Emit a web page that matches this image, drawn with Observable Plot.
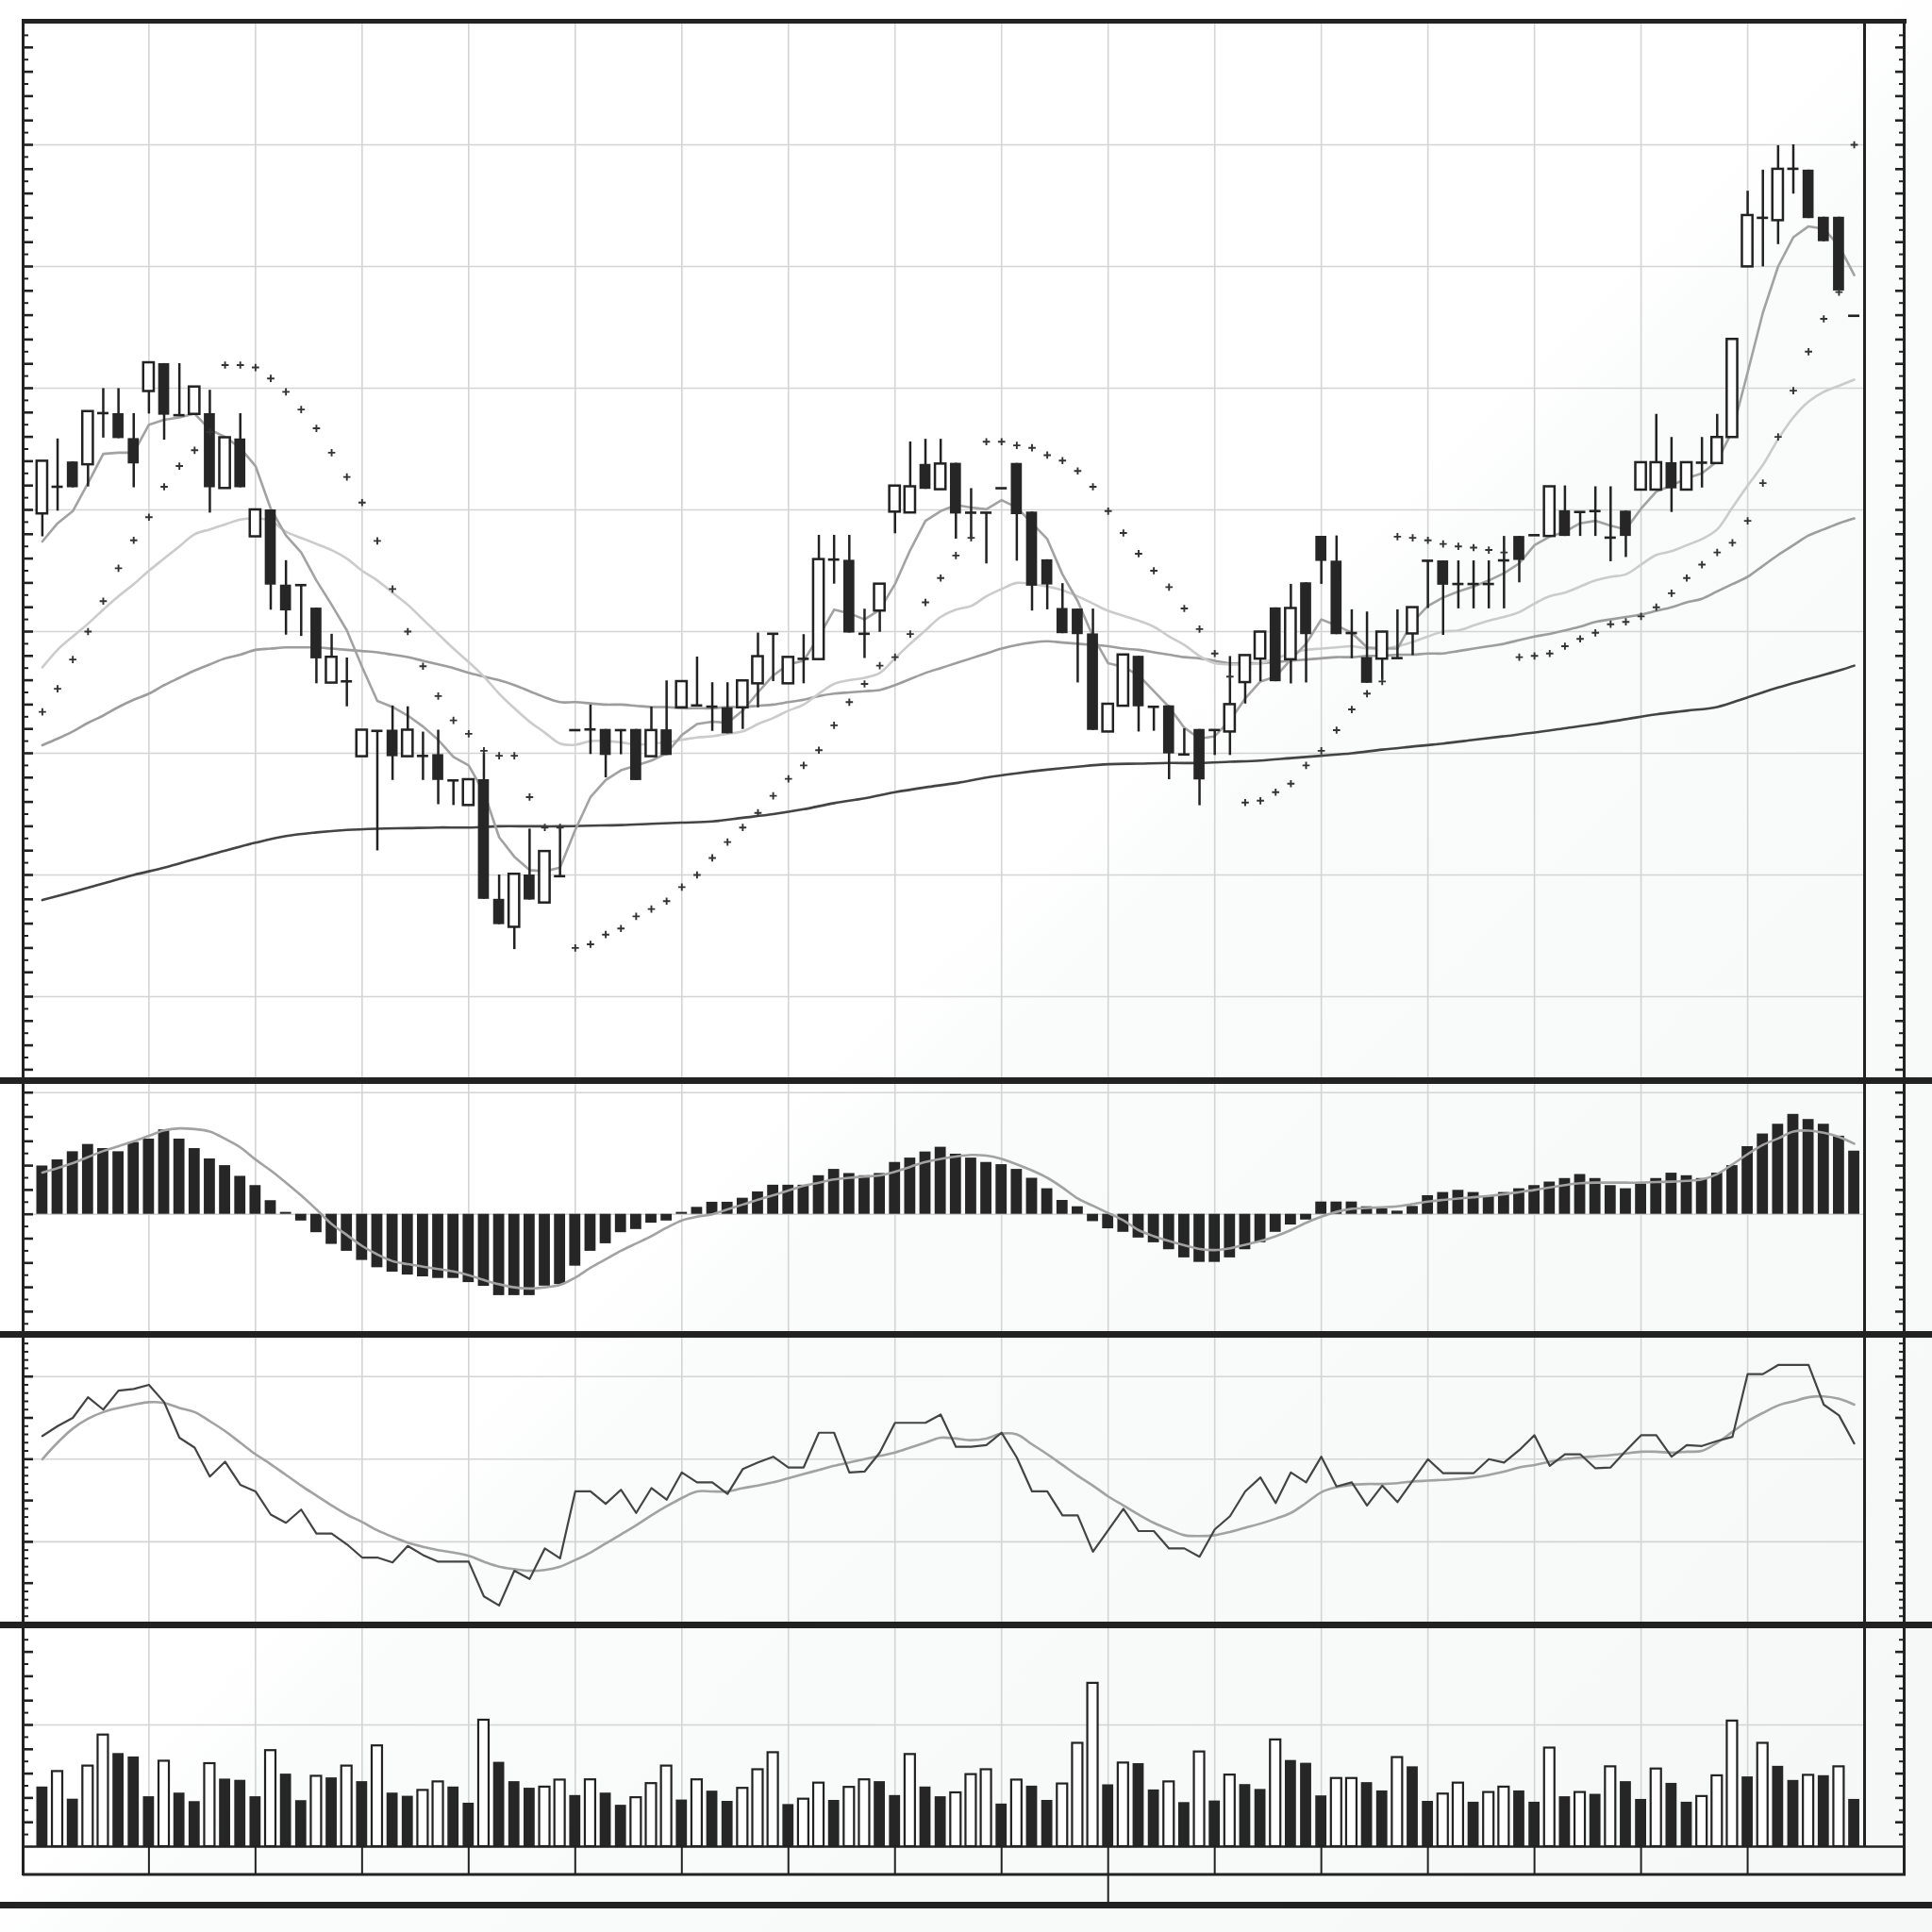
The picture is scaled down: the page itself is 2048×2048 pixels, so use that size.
<!DOCTYPE html>
<html><head><meta charset="utf-8">
<script src="https://cdn.jsdelivr.net/npm/d3@7"></script>
<script src="https://cdn.jsdelivr.net/npm/@observablehq/plot@0.6"></script>
<style>
html,body{margin:0;padding:0;}
body{width:2048px;height:2048px;position:relative;overflow:hidden;
background:linear-gradient(135deg,#ffffff 0%,#ffffff 49%,#fafbfb 53%,#f6f8f8 100%);font-family:"DejaVu Sans",sans-serif;}
#chart{position:absolute;left:0;top:0;width:2048px;height:2048px;}
.bar{position:absolute;background:#222;}
</style></head><body>
<div id="chart"></div>
<script>
// ---------- DATA ----------
const open = [79.67,81.9,83.94,83.71,87.95,87.91,85.86,89.73,92.02,87.78,
87.85,87.91,81.76,85.83,77.79,80.0,73.82,73.82,71.93,65.77,
65.91,59.72,61.84,61.9,59.72,59.78,59.89,57.77,55.71,57.83,
48.0,45.7,50.0,47.7,49.9,61.9,61.96,61.96,61.9,61.96,
59.72,61.93,63.74,63.93,63.83,63.74,63.74,65.71,69.82,65.71,
67.76,67.7,75.92,75.86,69.82,71.69,79.82,79.75,83.74,81.66,
83.83,79.77,79.77,81.78,83.82,79.82,75.9,71.9,71.85,69.81,
61.75,63.87,67.97,63.82,63.9,59.9,61.96,61.91,61.75,65.81,
67.74,71.95,67.69,74.01,77.83,75.79,69.88,67.87,67.74,67.82,
69.81,75.82,75.81,73.91,73.91,73.91,75.85,77.82,77.92,77.82,
79.93,79.83,79.9,77.72,79.9,81.63,81.63,83.88,81.63,83.88,
83.81,85.95,99.97,104.0,103.77,108.03,107.92,104.05,104.05,95.95];
const close = [84.0,81.9,81.82,88.08,87.95,85.86,83.78,92.09,87.78,87.78,
90.1,81.82,85.93,81.82,80.0,73.82,71.7,73.82,67.76,67.89,
65.91,61.9,61.84,59.72,61.9,59.78,57.77,57.77,57.83,48.0,
45.92,50.06,47.94,51.93,49.9,61.9,61.96,59.82,61.9,57.76,
61.87,59.82,65.89,63.93,63.83,61.6,65.95,67.94,69.82,67.88,
67.76,75.92,75.92,69.88,69.82,73.9,81.96,81.9,81.69,83.77,
79.66,79.77,79.77,81.78,79.61,73.73,73.83,69.83,69.75,61.88,
64.03,68.08,63.82,63.82,59.95,59.9,57.81,61.91,64.0,68.03,
69.96,65.88,71.9,69.75,75.77,69.75,69.88,65.75,69.96,67.82,
71.97,75.82,73.81,73.91,73.91,73.91,75.85,75.85,77.92,81.9,
77.82,79.83,79.9,77.72,77.82,83.88,83.88,81.73,83.88,83.88,
85.95,94.01,104.19,104.0,107.99,108.03,103.94,102.04,97.99,95.95];
const high = [84.0,85.83,83.94,88.08,89.97,89.97,87.91,92.09,92.02,92.02,
90.1,89.83,85.93,87.91,80.0,80.0,75.83,73.82,71.93,69.78,
67.83,61.9,61.84,63.89,63.82,61.74,61.9,57.77,57.83,60.0,
50.0,50.06,53.77,51.93,53.99,61.9,63.96,61.96,61.9,61.96,
63.8,65.95,65.89,67.91,65.8,65.8,65.95,69.88,69.82,67.88,
69.75,77.91,77.91,77.91,71.84,73.9,81.96,85.58,85.8,85.8,
83.83,81.75,79.77,81.78,83.82,79.82,75.9,73.94,71.85,71.85,
64.03,68.08,67.97,63.82,63.9,62.01,61.96,61.91,67.95,68.03,
69.96,71.95,73.88,74.01,77.83,77.86,71.79,71.61,69.96,71.79,
71.97,75.82,75.81,75.81,75.81,75.81,77.82,77.82,77.92,81.9,
81.97,79.83,81.9,81.9,79.9,83.88,87.85,85.95,83.88,85.95,
87.85,94.01,106.19,107.92,109.93,110.0,107.92,104.05,104.05,95.95];
const low = [77.79,79.9,81.82,81.89,85.9,85.86,81.82,87.88,85.73,87.78,
87.85,79.74,81.76,81.82,77.79,71.76,69.71,69.6,65.71,65.77,
63.82,59.72,51.98,57.77,59.72,57.77,55.78,55.71,55.71,48.0,
45.92,43.87,47.94,47.7,49.9,61.9,59.9,57.98,59.88,57.76,
59.72,59.82,63.74,63.93,61.8,61.6,61.96,63.74,65.89,65.71,
65.71,67.7,73.9,69.88,67.79,69.94,78.04,79.75,81.69,81.66,
77.6,77.57,75.56,81.78,75.79,71.69,71.79,69.83,65.78,61.88,
61.75,63.87,61.75,61.81,57.83,59.9,55.69,59.82,59.82,64.05,
65.88,65.88,65.7,65.78,73.88,69.75,67.77,65.75,66.0,67.82,
68.03,71.9,69.69,71.87,71.87,71.87,71.87,74.01,77.92,77.82,
77.82,77.82,77.82,75.74,76.09,81.63,81.63,79.79,81.63,81.8,
83.81,85.95,99.97,99.97,101.8,105.95,103.94,102.04,97.99,95.95];

const maFast = [77.4,78.9,79.9,82.2,84.6,84.7,84.7,87.0,87.4,87.6,
87.9,86.6,86.0,85.1,83.6,80.1,77.9,76.5,74.2,72.2,
70.1,67.1,64.3,63.8,63.1,62.2,61.1,59.7,59.0,56.8,
53.1,51.5,50.4,50.3,50.6,53.7,56.4,57.8,58.6,59.0,
59.4,60.0,61.5,62.4,62.6,62.5,63.5,65.0,66.4,67.3,
67.6,69.6,71.8,71.5,71.0,71.8,73.9,76.7,79.1,79.9,
80.4,80.2,80.05,80.8,80.2,78.9,77.6,74.7,72.5,69.6,
67.4,67.1,66.4,65.1,63.8,62.1,61.2,61.4,62.7,64.5,
65.9,66.3,67.7,69.0,71.0,70.5,69.9,68.7,68.6,68.6,
70.8,72.1,72.8,73.3,73.7,74.2,74.8,75.6,77.1,77.8,
78.2,78.9,79.1,78.7,78.4,80.1,81.5,82.0,82.6,83.0,
84.0,86.5,91.3,96.2,100.0,102.4,103.3,103.1,101.7,99.3];
const maMid = [67.05,68.5,69.6,70.65,71.8,72.9,73.9,75.0,76.0,77.0,
78.0,78.4,78.8,79.2,79.3,79.1,78.2,77.7,77.2,76.7,
76.0,75.0,74.2,73.2,72.2,71.0,69.8,68.6,67.5,66.3,
64.9,63.7,62.6,61.7,60.8,60.7,61.0,61.0,60.9,60.7,
60.8,60.9,61.1,61.3,61.4,61.6,61.8,62.4,62.9,63.5,
64.0,64.9,65.7,66.0,66.2,66.6,67.8,69.0,70.1,71.2,
71.8,72.1,72.9,73.5,74.0,73.9,73.7,73.4,72.9,72.3,
71.7,71.3,70.9,70.4,69.6,68.9,68.0,67.4,67.3,67.3,
67.4,67.8,68.2,68.5,68.6,68.7,68.8,68.6,68.6,68.8,
69.15,69.6,70.0,70.1,70.5,70.9,71.2,71.6,72.3,72.9,
73.2,73.7,74.2,74.5,74.7,75.5,76.3,76.6,77.1,77.6,
78.4,80.2,82.0,83.7,85.8,87.6,88.9,89.7,90.2,90.7];
const maSlow = [60.66,61.2,61.8,62.5,63.1,63.8,64.4,64.9,65.6,66.2,
66.8,67.3,67.8,68.1,68.5,68.6,68.7,68.7,68.7,68.6,
68.5,68.4,68.3,68.1,67.9,67.6,67.3,67.0,66.6,66.3,
66.0,65.6,65.1,64.6,64.2,64.2,64.1,64.0,64.0,63.9,
63.8,63.8,63.7,63.7,63.7,63.8,63.8,63.9,64.0,64.2,
64.4,64.7,64.9,65.0,65.1,65.2,65.6,66.1,66.6,67.0,
67.4,67.8,68.2,68.6,68.9,69.1,69.2,69.1,69.0,68.9,
68.8,68.6,68.5,68.3,68.1,67.9,67.8,67.6,67.4,67.4,
67.4,67.5,67.6,67.7,67.8,67.9,67.9,68.0,68.0,68.1,
68.1,68.2,68.2,68.4,68.6,68.8,69.0,69.3,69.6,69.8,
70.1,70.4,70.8,71.0,71.2,71.4,71.7,72.0,72.4,72.7,
73.3,73.9,74.5,75.4,76.3,77.1,77.9,78.4,78.9,79.3];
const maTrendIdx = [0,2,4,6,8,10,12,14,16,18,20,22,24,26,28,30,32,34,36,38,40,42,44,46,48,50,52,54,56,58,
60,62,64,66,68,70,72,74,76,78,80,82,84,86,88,90,92,94,96,98,100,102,104,106,108,110,112,114,116,118,119];
const maTrend = [47.94,48.6,49.3,50.0,50.6,51.3,52.0,52.65,53.2,53.5,53.7,53.8,53.85,53.9,53.9,54.0,54.0,54.0,54.05,54.1,
54.2,54.3,54.4,54.7,55.0,55.4,55.9,56.3,56.8,57.2,
57.55,58.0,58.35,58.65,58.9,59.1,59.15,59.2,59.2,59.3,59.4,59.6,59.8,60.0,60.3,60.55,60.8,61.1,61.4,61.7,
62.05,62.4,62.8,63.2,63.5,63.8,64.6,65.4,66.1,66.8,67.2];
const sar = [63.4,65.3,67.7,70.0,72.5,75.2,77.5,79.4,81.9,83.6,
84.9,86.4,91.9,91.9,91.7,90.8,89.7,88.25,86.7,84.7,
82.7,80.6,77.45,73.5,70.0,67.15,64.7,62.7,61.6,60.2,
59.8,59.8,56.4,53.9,53.9,44.0,44.3,45.1,45.6,46.6,
47.2,47.85,49.0,50.0,51.4,52.7,53.9,55.1,56.5,57.9,
59.0,60.25,62.3,64.2,65.7,67.2,67.9,69.8,72.4,74.4,
76.25,77.7,85.6,85.6,85.3,85.1,84.5,84.05,83.2,81.9,
79.9,78.1,76.4,75.0,73.65,71.9,70.2,68.2,66.3,55.95,
56.1,56.8,57.5,59.0,60.2,61.9,63.6,64.9,65.9,77.8,
77.7,77.5,77.2,77.0,76.9,76.7,76.5,67.9,68.0,68.2,
68.8,69.4,69.9,70.6,70.8,71.25,72.0,73.15,74.4,75.5,
76.5,77.3,79.1,82.2,86.0,89.8,93.0,95.7,97.9,110.0];

const macdHist = [0.397,0.447,0.514,0.574,0.54,0.514,0.59,0.618,0.694,0.618,
0.54,0.455,0.4,0.312,0.236,0.112,0.016,-0.055,-0.151,-0.247,
-0.304,-0.379,-0.439,-0.475,-0.499,-0.514,-0.527,-0.527,-0.561,-0.592,
-0.668,-0.668,-0.668,-0.59,-0.577,-0.426,-0.304,-0.242,-0.151,-0.125,
-0.073,-0.055,0.016,0.057,0.099,0.099,0.132,0.184,0.239,0.239,
0.239,0.317,0.369,0.335,0.317,0.335,0.426,0.462,0.512,0.551,
0.494,0.462,0.426,0.408,0.369,0.296,0.21,0.114,0.062,-0.06,
-0.119,-0.148,-0.195,-0.234,-0.291,-0.358,-0.395,-0.395,-0.358,-0.291,
-0.234,-0.148,-0.088,-0.047,0.101,0.101,0.101,0.062,0.044,0.026,
0.065,0.153,0.179,0.197,0.179,0.145,0.179,0.21,0.236,0.265,
0.294,0.327,0.294,0.236,0.21,0.249,0.294,0.338,0.317,0.294,
0.338,0.4,0.556,0.66,0.74,0.821,0.779,0.74,0.642,0.519];
const macdSignal = [0.343,0.38,0.42,0.47,0.52,0.56,0.6,0.645,0.69,0.706,
0.70,0.68,0.62,0.55,0.45,0.36,0.26,0.155,0.04,-0.08,
-0.17,-0.26,-0.33,-0.385,-0.41,-0.43,-0.45,-0.47,-0.5,-0.54,
-0.575,-0.6,-0.61,-0.6,-0.58,-0.52,-0.44,-0.37,-0.3,-0.24,
-0.18,-0.11,-0.05,-0.02,0.0,0.04,0.08,0.12,0.156,0.195,
0.234,0.26,0.286,0.3,0.31,0.32,0.35,0.39,0.43,0.455,
0.475,0.488,0.482,0.455,0.41,0.36,0.3,0.22,0.13,0.07,
0.01,-0.05,-0.13,-0.18,-0.22,-0.255,-0.285,-0.294,-0.28,-0.25,
-0.22,-0.18,-0.13,-0.07,-0.02,0.02,0.045,0.052,0.058,0.065,
0.085,0.104,0.118,0.13,0.14,0.151,0.165,0.182,0.2,0.221,
0.24,0.255,0.26,0.26,0.26,0.26,0.265,0.268,0.275,0.286,
0.33,0.41,0.494,0.57,0.623,0.68,0.688,0.67,0.635,0.58];

const oscK = [22.8,24.0,25.0,27.5,26.0,28.3,28.5,29.0,26.9,22.6,
21.4,17.9,19.7,16.9,16.1,13.3,12.3,13.9,11.0,11.0,
9.7,8.1,8.1,7.5,9.5,8.4,7.6,7.6,7.6,3.4,
2.3,6.5,5.5,9.2,8.0,16.1,16.1,14.6,16.3,13.5,
16.5,15.1,18.4,17.2,17.2,15.8,18.8,19.6,20.3,19.0,
19.0,23.2,23.2,18.4,18.5,20.8,24.4,24.4,24.4,25.4,
21.5,21.5,21.7,23.2,20.2,16.1,16.1,13.2,13.2,8.8,
11.4,14.0,11.3,11.3,9.2,9.2,8.2,11.5,13.1,16.1,
17.8,14.7,18.4,17.2,20.3,16.7,17.2,14.4,16.8,14.8,
17.4,20.0,18.3,18.3,18.3,20.0,19.6,21.1,22.9,19.2,
20.6,20.6,18.9,19.0,21.0,22.9,22.9,20.3,21.7,21.6,
22.2,22.7,30.3,30.3,31.4,31.4,31.4,26.6,25.3,21.9];
const oscD = [20.0,22.0,23.7,24.9,25.7,26.2,26.6,26.9,26.8,26.2,
25.7,24.6,23.4,22.0,20.6,19.4,18.1,16.8,15.6,14.4,
13.3,12.4,11.4,10.6,9.9,9.4,9.0,8.7,8.3,7.6,
7.0,6.7,6.5,6.6,7.0,7.8,8.7,9.8,10.9,12.0,
13.2,14.3,15.3,16.1,16.1,16.1,16.5,16.8,17.2,17.7,
18.2,18.7,19.2,19.6,20.0,20.4,20.8,21.4,22.0,22.6,
22.5,22.3,22.5,23.1,23.0,21.8,20.6,19.3,18.0,16.8,
15.5,14.4,13.3,12.3,11.5,10.8,10.7,10.8,11.2,11.7,
12.2,12.8,13.5,14.7,16.0,16.6,16.9,17.0,17.0,17.1,
17.3,17.4,17.5,17.6,17.8,18.1,18.5,19.0,19.3,19.7,
20.0,20.2,20.35,20.5,20.7,20.9,20.9,20.8,20.9,21.0,
22.0,23.3,24.6,25.6,26.5,27.0,27.5,27.6,27.3,26.6];

const volume = [4.9,6.25,3.9,6.7,9.25,7.65,7.37,4.1,7.1,4.4,
3.7,6.9,5.55,5.45,4.1,7.97,5.96,3.78,5.86,5.65,
6.7,5.34,8.36,4.4,4.14,4.7,5.4,4.9,3.57,10.47,
6.93,5.34,4.8,4.97,5.55,4.2,5.57,4.4,3.4,4.1,
5.26,6.7,3.83,5.57,4.56,3.72,4.87,6.4,7.8,3.46,
3.98,5.3,3.8,4.95,5.57,5.34,4.2,7.65,4.9,4.1,
4.5,6.0,6.4,3.5,5.55,4.97,3.8,5.23,8.57,13.5,
5.08,6.95,6.82,4.66,5.4,3.62,7.86,3.75,5.96,5.1,
4.7,8.85,7.08,6.85,4.17,5.68,5.68,5.26,4.58,7.4,
6.56,3.72,4.4,5.3,3.65,4.53,4.97,4.58,3.65,8.18,
4.1,4.53,4.3,6.64,5.34,3.88,6.46,5.2,3.65,4.2,
5.9,10.4,5.73,8.57,6.6,5.44,5.94,5.83,6.64,3.88];
// 1 = hollow (outlined) bar, 0 = solid bar
const volumeHollow = [0,1,0,1,1,0,0,0,1,0,
0,1,0,0,0,1,0,0,1,0,
1,0,1,0,0,1,1,0,0,1,
0,0,0,1,1,0,1,0,0,1,
1,1,0,1,0,0,1,1,1,0,
1,1,0,1,1,0,0,1,0,0,
1,1,1,0,1,0,0,1,1,1,
0,1,0,0,1,0,1,0,1,0,
0,1,0,0,0,1,1,0,0,1,
0,0,1,1,0,1,1,0,0,1,
0,1,0,1,0,0,1,0,0,1,
1,1,0,1,0,0,1,0,1,0];

// ---------- LAYOUT ----------
const N = open.length;
const X0 = 44.4, STEP = 16.14;             // pixel x of bar 0, pixels per bar
const xAt = px => (px - X0) / STEP;
const xDomain = [xAt(24), xAt(2020)];
const xPlotRight = xAt(1976.5);
const gridIdx = d3.range(7, 113, 7);
const INK = "#222", GRID = "#d4d4d4", BODY = "#262626";
const idx = d3.range(N);

function ticks(vals, isMajor) {
  const maj = vals.filter(isMajor), min = vals.filter(v => !isMajor(v));
  const o = {y: d => d, stroke: INK};
  return [
    Plot.ruleY(maj, {...o, x1: xAt(25), x2: xAt(35), strokeWidth: 2.6}),
    Plot.ruleY(min, {...o, x1: xAt(25), x2: xAt(30), strokeWidth: 2}),
    Plot.ruleY(maj, {...o, x1: xAt(2009), x2: xAt(2019), strokeWidth: 2.6}),
    Plot.ruleY(min, {...o, x1: xAt(2013), x2: xAt(2019), strokeWidth: 2})
  ];
}
function hgrid(vals) {
  return Plot.ruleY(vals, {y: d => d, x1: xDomain[0], x2: xPlotRight, stroke: GRID, strokeWidth: 1.6});
}

function panel(top, bottom, v0, px0, ppu, build) {
  const valAt = px => v0 + (px0 - px) / ppu;
  const svg = Plot.plot({
    width: 2048, height: bottom - top,
    marginLeft: 24, marginRight: 28, marginTop: 0, marginBottom: 0,
    x: {domain: xDomain, axis: null},
    y: {domain: [valAt(bottom), valAt(top)], axis: null},
    style: {background: "transparent", overflow: "visible"},
    marks: build(valAt)
  });
  svg.style.position = "absolute";
  svg.style.left = "0px";
  svg.style.top = top + "px";
  document.getElementById("chart").appendChild(svg);
}

// ---------- MAIN (price) ----------
const candles = idx.map(i => ({i, o: open[i], h: high[i], l: low[i], c: close[i]}));
const doji = candles.filter(d => Math.abs(d.o - d.c) < 0.2);
const upC = candles.filter(d => d.c - d.o >= 0.2);
const dnC = candles.filter(d => d.o - d.c >= 0.2);

panel(25, 1142, 120, 24, 12.9, valAt => [
  Plot.ruleX(gridIdx, {x: d => d, stroke: GRID, strokeWidth: 1.6}),
  hgrid(d3.range(40, 111, 10)),
  Plot.line(maTrendIdx, {x: d => d, y: (d, k) => maTrend[k], stroke: "#444", strokeWidth: 2.6, curve: "catmull-rom"}),
  Plot.line(idx, {x: d => d, y: i => maSlow[i], stroke: "#9d9d9d", strokeWidth: 2.6, curve: "catmull-rom"}),
  Plot.line(idx, {x: d => d, y: i => maMid[i], stroke: "#cbcbcb", strokeWidth: 2.6, curve: "catmull-rom"}),
  Plot.line(idx, {x: d => d, y: i => maFast[i], stroke: "#a2a2a2", strokeWidth: 2.6}),
  Plot.ruleX(candles.filter(d => d.h > d.l), {x: "i", y1: "l", y2: "h", stroke: INK, strokeWidth: 2.5}),
  Plot.rect(dnC, {x1: d => d.i - 0.362, x2: d => d.i + 0.362, y1: "o", y2: "c", fill: BODY}),
  Plot.rect(upC, {x1: d => d.i - 0.347, x2: d => d.i + 0.347, y1: "o", y2: "c", fill: "#fff", stroke: INK, strokeWidth: 2.5}),
  Plot.ruleY(doji, {y: "o", x1: d => d.i - 0.37, x2: d => d.i + 0.37, stroke: INK, strokeWidth: 2.6}),
  Plot.dot(idx, {x: d => d, y: i => sar[i], symbol: "plus", r: 2.6, stroke: "#333", strokeWidth: 1.9}),
  ...ticks(d3.range(34, 120), v => v % 2 === 0)
]);

// ---------- MACD ----------
panel(1149, 1411, 0, 1286.7, 129, valAt => [
  Plot.ruleX(gridIdx, {x: d => d, stroke: GRID, strokeWidth: 1.6}),
  hgrid([0, 1]),
  Plot.rect(idx, {x1: i => i - 0.365, x2: i => i + 0.365, y1: () => 0, y2: i => macdHist[i], fill: BODY}),
  Plot.line(idx, {x: d => d, y: i => macdSignal[i], stroke: "#a2a2a2", strokeWidth: 2.6, curve: "catmull-rom"}),
  ...ticks(d3.range(-9, 11).map(k => k / 10), v => Math.round(v * 10) % 2 === 0)
]);

// ---------- OSCILLATOR ----------
panel(1418, 1719, 20, 1546.3, 8.76, valAt => [
  Plot.ruleX(gridIdx, {x: d => d, stroke: GRID, strokeWidth: 1.6}),
  hgrid([10, 20, 30]),
  Plot.line(idx, {x: d => d, y: i => oscD[i], stroke: "#a2a2a2", strokeWidth: 2.6, curve: "catmull-rom"}),
  Plot.line(idx, {x: d => d, y: i => oscK[i], stroke: "#444", strokeWidth: 2.2}),
  ...ticks(d3.range(1, 35), v => v % 5 === 0)
]);

// ---------- VOLUME + time axis ----------
const volSolid = idx.filter(i => !volumeHollow[i]);
const volOpen = idx.filter(i => volumeHollow[i]);
panel(1726, 2016, 0, 1957, 12.9, valAt => [
  Plot.ruleX(gridIdx, {x: d => d, y1: () => 0, y2: () => valAt(1726), stroke: GRID, strokeWidth: 1.6}),
  hgrid([10]),
  Plot.rect(volSolid, {x1: i => i - 0.365, x2: i => i + 0.365, y1: () => 0, y2: i => volume[i], fill: BODY}),
  Plot.rect(volOpen, {x1: i => i - 0.34, x2: i => i + 0.34, y1: () => 0, y2: i => volume[i] - 0.08, fill: "#fff", stroke: INK, strokeWidth: 2.2}),
  Plot.ruleY([0], {y: d => d, x1: xDomain[0], x2: xDomain[1], stroke: INK, strokeWidth: 2.6}),
  Plot.ruleY([valAt(1986.5)], {y: d => d, x1: xDomain[0], x2: xDomain[1], stroke: INK, strokeWidth: 3}),
  Plot.ruleX(gridIdx, {x: d => d, y1: () => 0, y2: () => valAt(1986.5), stroke: INK, strokeWidth: 2}),
  Plot.ruleX([70], {x: d => d, y1: () => valAt(1986.5), y2: () => valAt(2016), stroke: INK, strokeWidth: 2}),
  ...ticks(d3.range(1, 18), v => v % 2 === 0)
]);

// ---------- frame bars ----------
const frame = [
  [23, 20, 1998, 5],      // top border
  [0, 1142, 2048, 7],     // separators
  [0, 1411, 2048, 7],
  [0, 1719, 2048, 7],
  [0, 2016, 2048, 7],
  [23, 20, 3, 1968],      // left axis line
  [1975, 20, 3, 1937],    // plot right border
  [2017, 20, 3, 1968]     // right axis line
];
for (const [l, t, w, h] of frame) {
  const d = document.createElement("div");
  d.className = "bar";
  d.style.left = l + "px"; d.style.top = t + "px";
  d.style.width = w + "px"; d.style.height = h + "px";
  document.getElementById("chart").appendChild(d);
}
</script>
</body></html>
